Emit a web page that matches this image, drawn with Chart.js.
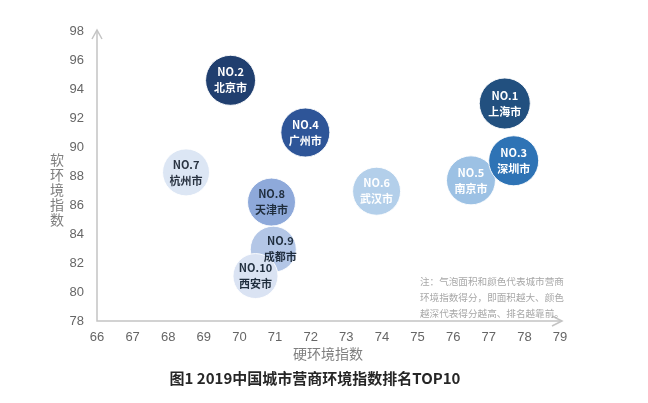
<!DOCTYPE html>
<html>
<head>
<meta charset="utf-8">
<script src="https://cdn.jsdelivr.net/npm/chart.js@4"></script>
<style>
  html, body { margin: 0; padding: 0; background: #fff; }
  #box { width: 648px; height: 403px; }
</style>
</head>
<body>
<div id="box"><canvas id="myChart"></canvas></div>
<script>
// data, in rank order
var ranks = ['NO.1', 'NO.2', 'NO.3', 'NO.4', 'NO.5', 'NO.6', 'NO.7', 'NO.8', 'NO.9', 'NO.10'];
var cities = ['上海市', '北京市', '深圳市', '广州市', '南京市', '武汉市', '杭州市', '天津市', '成都市', '西安市'];
var hardIndex = [77.45, 69.75, 77.7, 71.85, 76.5, 73.85, 68.5, 70.9, 70.95, 70.45];
var softIndex = [93.0, 94.6, 89.05, 91.0, 87.7, 86.95, 88.25, 86.2, 82.95, 81.1];
var bubbleSize = [25.5, 25, 25, 24.5, 24.5, 24, 23.5, 24, 23, 22.5];
var xTicks = [66, 67, 68, 69, 70, 71, 72, 73, 74, 75, 76, 77, 78, 79];
var yTicks = [78, 80, 82, 84, 86, 88, 90, 92, 94, 96, 98];

var fillColors = ['#22507f', '#203f6f', '#2e73b5', '#2e5598', '#9cc1e4', '#b3cfea', '#dce6f4', '#8ea9da', '#b3c6e6', '#dae3f3'];
var textColors = ['#fff', '#fff', '#fff', '#fff', '#fff', '#fff', '#2a3442', '#1f2d3d', '#1f2d3d', '#1f2d3d'];
// which bubble is painted over which (later = on top)
var drawOrder = [4, 2, 0, 1, 3, 5, 6, 7, 8, 9];

var CJK = '"Noto Sans CJK SC", "Noto Sans", sans-serif';
var ctxEl = document.getElementById('myChart');

var points = drawOrder.map(function (i) {
  return { x: hardIndex[i], y: softIndex[i], r: bubbleSize[i], k: i };
});

var extras = {
  id: 'extras',
  afterDatasetsDraw: function (chart) {
    var c = chart.ctx;
    var area = chart.chartArea;
    var meta = chart.getDatasetMeta(0);
    c.save();
    // bubble labels
    c.textAlign = 'center';
    c.textBaseline = 'middle';
    meta.data.forEach(function (el, j) {
      var i = points[j].k;
      var dx = (i === 8) ? 7 : 0; // NO.9 text pushed right, away from NO.10
      c.fillStyle = textColors[i];
      c.font = 'bold 11px ' + CJK;
      c.fillText(ranks[i], el.x + dx, el.y - 8);
      c.fillText(cities[i], el.x + dx, el.y + 8);
    });

    // axes with arrow heads
    c.strokeStyle = '#c4c4c4';
    c.lineWidth = 1.5;
    c.beginPath();
    c.moveTo(area.left, area.top - 1);
    c.lineTo(area.left, area.bottom);
    c.lineTo(area.right + 2, area.bottom);
    c.stroke();
    c.beginPath();
    c.moveTo(area.left - 5, area.top + 8);
    c.lineTo(area.left, area.top - 1);
    c.lineTo(area.left + 5, area.top + 8);
    c.moveTo(area.right - 8, area.bottom - 5);
    c.lineTo(area.right + 2, area.bottom);
    c.lineTo(area.right - 8, area.bottom + 5);
    c.stroke();

    // axis titles
    c.fillStyle = '#7f7f7f';
    c.font = '14px ' + CJK;
    c.textAlign = 'center';
    var ytitle = '软环境指数';
    for (var n = 0; n < ytitle.length; n++) {
      c.fillText(ytitle[n], 57, 160 + n * 15);
    }
    c.fillText('硬环境指数', 328, 354);

    // note
    c.fillStyle = '#a8a8a8';
    c.font = '9.6px ' + CJK;
    c.textAlign = 'left';
    c.fillText('注：气泡面积和颜色代表城市营商', 420, 281);
    c.fillText('环境指数得分，即面积越大、颜色', 420, 297);
    c.fillText('越深代表得分越高、排名越靠前。', 420, 313);

    // caption
    c.fillStyle = '#262626';
    c.font = 'bold 15px ' + CJK;
    c.textAlign = 'center';
    c.fillText('图1 2019中国城市营商环境指数排名TOP10', 315, 378);
    c.restore();
  }
};

var config = {
  type: 'bubble',
  data: {
    datasets: [{
      data: points,
      backgroundColor: points.map(function (p) { return fillColors[p.k]; }),
      borderColor: 'rgba(255,255,255,0.9)',
      borderWidth: 1,
      hoverRadius: 0
    }]
  },
  options: {
    responsive: true,
    maintainAspectRatio: false,
    animation: false,
    layout: { padding: { top: 31, right: 88, left: 0, bottom: 0 } },
    plugins: {
      legend: { display: false },
      tooltip: { enabled: false }
    },
    scales: {
      x: {
        type: 'linear',
        min: 66,
        max: 79,
        afterBuildTicks: function (s) { s.ticks = xTicks.map(function (v) { return { value: v }; }); },
        afterFit: function (s) { s.height = 82; },
        grid: { display: false, drawTicks: false },
        border: { display: false },
        ticks: {
          padding: 9,
          color: '#666',
          font: { family: '"Liberation Sans", Arial, sans-serif', size: 13 }
        }
      },
      y: {
        type: 'linear',
        min: 78,
        max: 98,
        afterBuildTicks: function (s) { s.ticks = yTicks.map(function (v) { return { value: v }; }); },
        afterFit: function (s) { s.width = 97; },
        grid: { display: false, drawTicks: false },
        border: { display: false },
        ticks: {
          padding: 13,
          color: '#666',
          font: { family: '"Liberation Sans", Arial, sans-serif', size: 13 }
        }
      }
    }
  },
  plugins: [extras]
};

var chart = new Chart(ctxEl, config);
</script>
</body>
</html>
